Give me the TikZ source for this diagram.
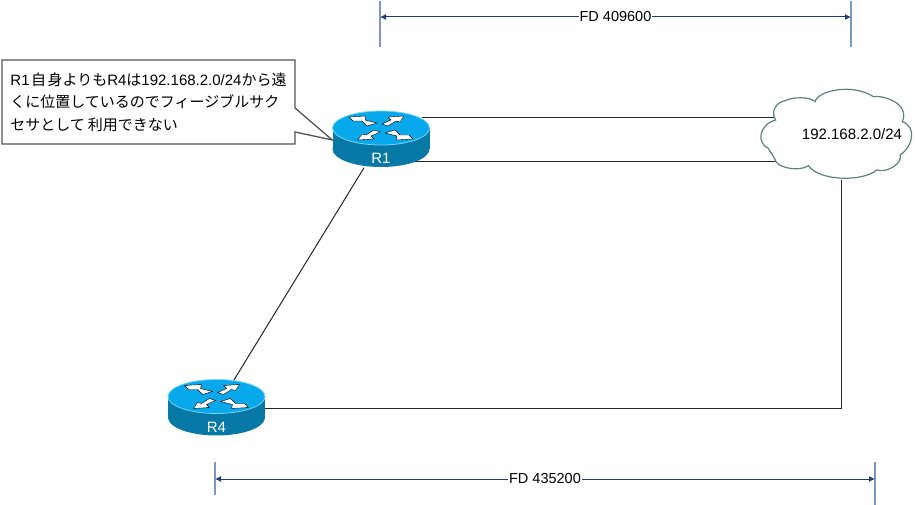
\documentclass[tikz,border=0pt]{standalone}
\usepackage{fontspec}
\setmainfont{Liberation Sans}
\newfontfamily\jpfont{Noto Sans CJK JP}
\usetikzlibrary{arrows.meta,backgrounds,shapes.callouts}
\definecolor{routertop}{RGB}{8,168,236}
\definecolor{routerside}{RGB}{8,120,166}
\definecolor{routeredge}{RGB}{120,212,246}
\definecolor{dimblue}{RGB}{31,61,122}
\definecolor{tickblue}{RGB}{125,150,195}
\definecolor{cloudgrey}{RGB}{92,128,134}
\definecolor{notegrey}{RGB}{85,85,85}
\newcommand{\jp}[1]{{\jpfont #1}}

\tikzset{
    link/.style={line width=1pt,draw=black!85},
    dimline/.style={line width=1pt,draw=dimblue,{Latex[length=6pt,width=6pt]}-{Latex[length=6pt,width=6pt]}},
    dimtick/.style={line width=1.4pt,draw=tickblue},
    dimlabel/.style={fill=white,inner xsep=1pt,inner ysep=1pt,font=\fontsize{14.5}{16}\selectfont},
    routerbox/.style={minimum width=97pt,minimum height=55pt,inner sep=0pt},
    routerlabel/.style={text=white,inner sep=0pt,font=\fontsize{15}{17}\selectfont},
    router/.pic={
        \fill[routerside] (0,9) ellipse[x radius=48.5,y radius=18];
        \fill[routerside] (-48.5,-12) rectangle (48.5,9);
        \fill[routertop,draw=routeredge,line width=0.8pt] (0,-12) ellipse[x radius=48.5,y radius=17];
        \foreach \sx/\sy in {1/1,-1/-1}{
            \begin{scope}[shift={(0,-12)},xscale=\sx,yscale=\sy]
                \filldraw[white,draw=black,line width=0.4pt] (-32,-11) -- (-15,-12) -- (-16,-8) -- (-4,-5) -- (-14,-2) -- (-19,-7) -- (-28,-7) -- cycle;
                \filldraw[white,draw=black,line width=0.4pt] (23,-12) -- (7,-11) -- (10,-8) -- (1,-4) -- (7,-2) -- (15,-7) -- (19,-6) -- cycle;
            \end{scope}
        }
    }
}

\begin{document}
\begin{tikzpicture}[x=1pt,y=-1pt]
    \useasboundingbox (0,0) rectangle (915,505);

    \foreach \name/\x/\y in {R1/381/140, R4/216.5/408.5}{
        \pic at (\x,\y) {router};
        \node[routerbox] (\name) at (\x,\y) {};
        \node[routerlabel] (\name-label) at ([yshift=9pt]\name.south) {\name};
    }

    % cloud outline
    \begin{scope}[shift={(740,80)},scale=1/3]
        \filldraw[fill=white,draw=cloudgrey,line width=1.2pt]
            (107,120) .. controls (90,95) and (110,65) .. (135,62)
            .. controls (160,50) and (210,50) .. (225,65)
            .. controls (235,30) and (340,10) .. (400,50)
            .. controls (430,45) and (510,70) .. (487,125)
            .. controls (530,140) and (520,200) .. (480,225)
            .. controls (490,250) and (440,280) .. (410,270)
            .. controls (370,305) and (240,305) .. (205,257)
            .. controls (180,275) and (120,265) .. (108,245)
            .. controls (100,225) and (90,215) .. (85,205)
            .. controls (50,190) and (55,135) .. (107,120) -- cycle;
    \end{scope}
    \node[inner sep=0pt,font=\fontsize{15}{17}\selectfont] (net) at (852,134) {192.168.2.0/24};

    \coordinate (net-a) at (776,118);
    \coordinate (net-b) at (776,162);
    \coordinate (net-c) at (841,180);
    \coordinate (R1-a) at (422,118);
    \coordinate (R1-b) at (415,162);

    \begin{scope}[on background layer]
        \fill[white] (0,0) rectangle (915,505);
        \draw[link] (R1-a) -- (net-a);
        \draw[link] (R1-b) -- (net-b);
        \draw[link] (R1) -- (R4);
        \draw[link] (net-c) |- (R4);
    \end{scope}

    % callout
    \node[rectangle callout,draw=notegrey,fill=white,line width=1.3pt,
          callout absolute pointer={(R1.west)},callout pointer width=24pt,
          minimum width=293pt,minimum height=84pt,inner sep=0pt,align=left,
          font=\fontsize{15}{22.5}\selectfont] (note) at (148.5,102)
        {R1\hspace{1.5pt}\jp{自}\hspace{1.5pt}\jp{身よりも}R4\jp{は}192.168.2.0/24\jp{から遠}\\
         \jp{くに位置しているのでフィージブルサク}\\
         \jp{セサとして}\hspace{3pt}\jp{利用できない}};

    % FD dimensions
    \coordinate (fd1-a) at (380,17);
    \coordinate (fd1-b) at (851,17);
    \coordinate (fd2-a) at (215,479);
    \coordinate (fd2-b) at (875,479);
    \draw[dimtick] (380,1) -- (380,47);
    \draw[dimtick] (851,1) -- (851,47);
    \draw[dimtick] (215,462) -- (215,495);
    \draw[dimtick] (875,462) -- (875,505);
    \draw[dimline] (fd1-a) -- node[dimlabel] {FD 409600} (fd1-b);
    \draw[dimline] (fd2-a) -- node[dimlabel] {FD 435200} (fd2-b);
\end{tikzpicture}
\end{document}
